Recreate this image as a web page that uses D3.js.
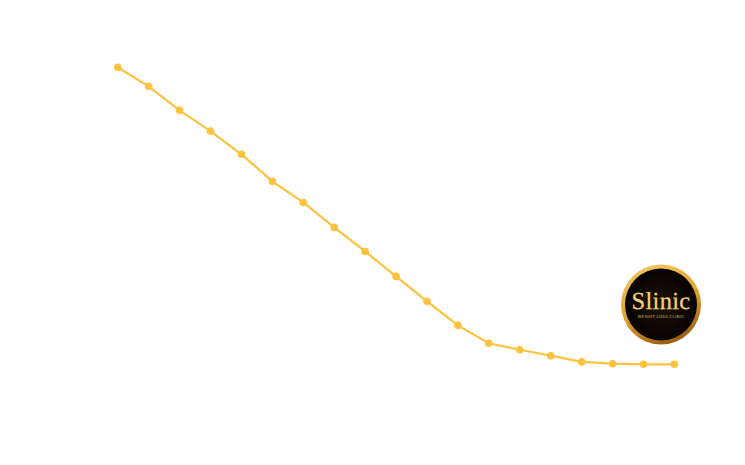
<!DOCTYPE html>
<html>
<head>
<meta charset="utf-8">
<script src="https://cdn.jsdelivr.net/npm/d3@7"></script>
<style>
  html, body { margin: 0; padding: 0; background: #fff; }
  svg { display: block; }
  text { text-rendering: geometricPrecision; }
</style>
</head>
<body>
<svg id="chart" width="745" height="465"></svg>
<script>
// no axis labels in the picture, so values are relative (first point = 100, last = 0)
var weeks = [0, 1, 2, 3, 4, 5, 6, 7, 8, 9, 10, 11, 12, 13, 14, 15, 16, 17, 18]
var weight = [100, 93.6, 85.5, 78.5, 70.7, 61.6, 54.5, 46.1, 38, 29.6, 21.2, 13.1, 7.1, 4.9, 2.9, 0.8, 0.2, 0, 0]

var lineColor = '#fbc33f'

var svg = d3.select('#chart')

var x = d3.scaleLinear().domain([0, 18]).range([117.7, 674.4])
var y = d3.scaleLinear().domain([0, 100]).range([364.3, 67.3])

var line = d3
  .line()
  .x(function (d, i) {
    return x(weeks[i])
  })
  .y(function (d) {
    return y(d)
  })

svg
  .append('path')
  .datum(weight)
  .attr('d', line)
  .attr('fill', 'none')
  .attr('stroke', lineColor)
  .attr('stroke-width', 2.2)

svg
  .selectAll('.dot')
  .data(weight)
  .enter()
  .append('circle')
  .attr('class', 'dot')
  .attr('cx', function (d, i) {
    return x(weeks[i])
  })
  .attr('cy', function (d) {
    return y(d)
  })
  .attr('r', 3.8)
  .attr('fill', lineColor)

// logo badge
var defs = svg.append('defs')
var ring = defs
  .append('linearGradient')
  .attr('id', 'ring')
  .attr('x1', 0.2)
  .attr('y1', 0)
  .attr('x2', 0.6)
  .attr('y2', 1)
ring.append('stop').attr('offset', '0%').attr('stop-color', '#f4c95f')
ring.append('stop').attr('offset', '55%').attr('stop-color', '#e0a02e')
ring.append('stop').attr('offset', '100%').attr('stop-color', '#9a5c10')

var inner = defs.append('radialGradient').attr('id', 'inner')
inner.append('stop').attr('offset', '0%').attr('stop-color', '#1c1206')
inner.append('stop').attr('offset', '100%').attr('stop-color', '#070301')

var logo = svg.append('g').attr('transform', 'translate(661,304.5)')

logo.append('circle').attr('r', 40).attr('fill', 'url(#ring)')
logo.append('circle').attr('r', 36).attr('fill', 'url(#inner)')

logo
  .append('text')
  .attr('text-anchor', 'middle')
  .attr('y', 4.8)
  .attr('font-family', 'Liberation Serif')
  .attr('font-size', 24.5)
  .attr('letter-spacing', 0.3)
  .attr('fill', '#f6cf78')
  .attr('stroke', '#f6cf78')
  .attr('stroke-width', 0.25)
  .text('Slinic')

logo
  .append('text')
  .attr('text-anchor', 'middle')
  .attr('y', 13.6)
  .attr('font-family', 'Roboto')
  .attr('font-size', 4.3)
  .attr('letter-spacing', 0.3)
  .attr('fill', '#d9b26a')
  .text('WEIGHT LOSS CLINIC')
</script>
</body>
</html>
